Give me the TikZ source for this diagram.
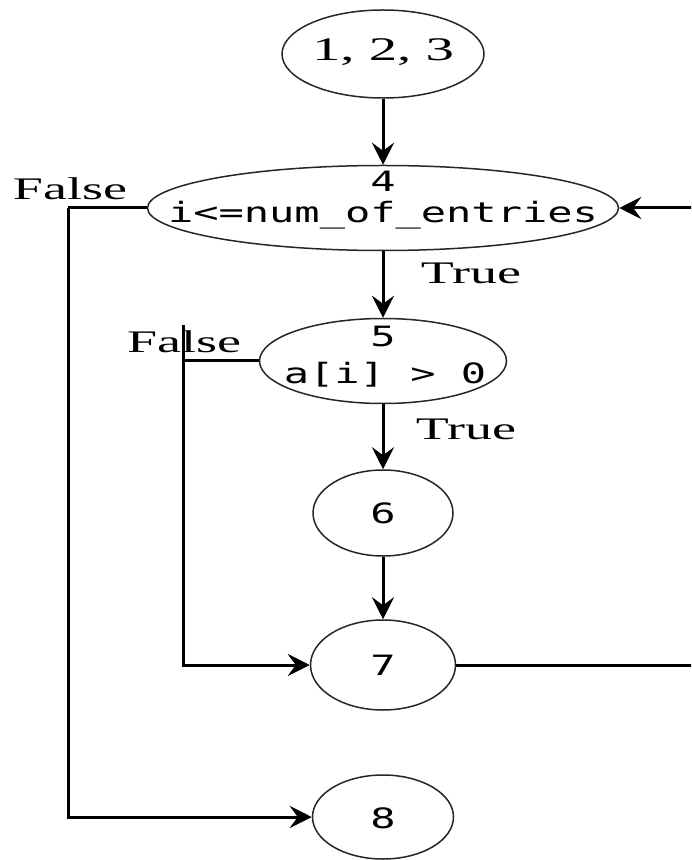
\documentclass[tikz,border=0pt]{standalone}
\usepackage{fontspec}
\setmainfont{Liberation Serif}
\newfontfamily\lblfont[FakeStretch=1.72]{Liberation Serif}
\newfontfamily\codefont[FakeStretch=1.5]{DejaVu Sans Mono}
\usetikzlibrary{shapes.geometric,arrows.meta}
\begin{document}
\begin{tikzpicture}[x=0.5pt,y=-0.5pt,
  blk/.style={draw=black!85, line width=0.75pt, ellipse, inner sep=0pt},
  lbl/.style={font=\fontsize{15.7}{18}\lblfont, inner sep=0pt},
  code/.style={font=\fontsize{14}{16}\codefont, inner sep=0pt},
  flow/.style={line width=1.5pt, -{Stealth[length=11pt,width=11pt,inset=4pt]}},
  wire/.style={line width=1.5pt}]
\useasboundingbox (0,0) rectangle (691,860);
\clip (0,0) rectangle (691,860);

% blocks of the flow graph
\node[blk, minimum width=101pt, minimum height=44pt] (n123) at (383,54) {};
\node[blk, minimum width=235.5pt, minimum height=42.5pt] (n4) at (383,208) {};
\node[blk, minimum width=123.5pt, minimum height=42.5pt] (n5) at (383,361) {};
\node[blk, minimum width=70pt, minimum height=43pt] (n6) at (383,513) {};
\node[blk, minimum width=72.5pt, minimum height=45pt] (n7) at (383,665) {};
\node[blk, minimum width=70.5pt, minimum height=42pt] (n8) at (383,817) {};

% texts inside the blocks
\node[lbl, font=\fontsize{16.5}{18}\lblfont] (t123) at (383,52) {1, 2, 3};
\node[code] (t4a) at (383,181) {4};
\node[code] (t4b) at (383,215) {i<=num\_of\_entries};
\node[code] (t5a) at (383,336) {5};
\node[code] (t5b) at (385,375) {a[i] > 0};
\node[code] (t6) at (383,513) {6};
\node[code] (t7) at (383,665) {7};
\node[code] (t8) at (383,818) {8};

% branch labels
\node[lbl] (f4) at (70,189) {False};
\node[lbl] (tr4) at (471,273) {True};
\node[lbl] (f5) at (184,342) {False};
\node[lbl] (tr5) at (466,429) {True};

% helper points of the routed edges
\coordinate (l4) at (68,208);
\coordinate (l5) at (183,361);
\coordinate (l5top) at (183,325);
\coordinate (r7) at (700,665);
\coordinate (r4) at (700,208);

% straight edges
\draw[flow] (n123.south) -- (n4.north);
\draw[flow] (n4.south) -- (n5.north);
\draw[flow] (n5.south) -- (n6.north);
\draw[flow] (n6.south) -- (n7.north);

% loop back from 7 to the test in 4
\draw[wire] (n7.east) -- (r7) -- (r4);
\draw[flow] (r4) -- (n4.east);

% false branch of 4
\draw[wire] (n4.west) -- (l4);
\draw[flow] (l4) |- (n8.west);

% false branch of 5
\draw[wire] (n5.west) -- (l5);
\draw[flow] (l5top) |- (n7.west);
\end{tikzpicture}
\end{document}
